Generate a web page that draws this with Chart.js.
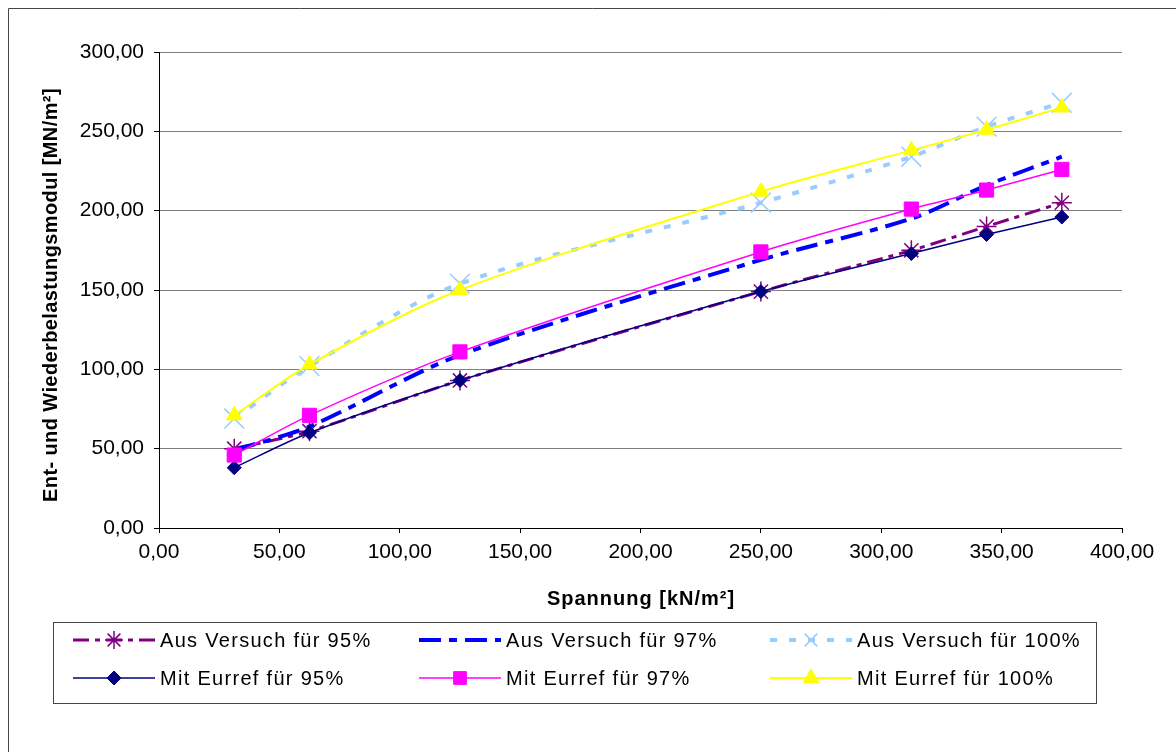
<!DOCTYPE html>
<html>
<head>
<meta charset="utf-8">
<script src="https://cdn.jsdelivr.net/npm/chart.js@4/dist/chart.umd.min.js"></script>
<style>
  body { margin: 0; background: #fff; }
  #wrap { width: 1176px; height: 752px; }
</style>
</head>
<body>
<div id="wrap"><canvas id="c" width="1176" height="752"></canvas></div>
<script>
// Spannung in kN/m²
const spannung = [31.25, 62.5, 125, 250, 312.5, 343.75, 375];

// Ent- und Wiederbelastungsmodul in MN/m²
const ausVersuch95 = [50, 61, 93, 149, 175, 190, 205];
const ausVersuch97 = [49, 64, 109, 169, 195, 216, 234];
const ausVersuch100 = [69, 102, 154, 205, 234, 253, 268];
const eurref95 = [38, 60, 93, 149, 173, 185, 196];
const eurref97 = [46, 71, 111, 174, 201, 213, 226];
const eurref100 = [71, 103, 150, 212, 238, 251, 265];

const seriesNames = [
  'Aus Versuch für 95%', 'Aus Versuch für 97%', 'Aus Versuch für 100%',
  'Mit Eurref für 95%', 'Mit Eurref für 97%', 'Mit Eurref für 100%'
];

const xTicks = [0, 50, 100, 150, 200, 250, 300, 350, 400];
const yTicks = [0, 50, 100, 150, 200, 250, 300];

const FONT = "'Liberation Sans', Arial, sans-serif";

function pts(ys) {
  return spannung.map((x, i) => ({ x: x, y: ys[i] }));
}

function fmt(v) {
  return v.toFixed(2).replace('.', ',');
}

const styles = [
  { color: '#800080', width: 3, dash: [16, 6, 5, 6], point: 'star', radius: 10, pw: 1.5 },
  { color: '#0000FF', width: 4, dash: [22, 8, 8, 8], point: false, radius: 0, pw: 0 },
  { color: '#99CCFF', width: 4, dash: [7, 12], point: 'crossRot', radius: 14, pw: 1.5 },
  { color: '#000080', width: 1.5, dash: [], point: 'rectRot', radius: 7, pw: 1 },
  { color: '#FF00FF', width: 1.5, dash: [], point: 'rect', radius: 10, pw: 1 },
  { color: '#FFFF00', width: 2, dash: [], point: 'triangle', radius: 9, pw: 1 }
];

const values = [ausVersuch95, ausVersuch97, ausVersuch100, eurref95, eurref97, eurref100];

const datasets = values.map((ys, i) => {
  const s = styles[i];
  return {
    label: seriesNames[i],
    data: pts(ys),
    showLine: true,
    tension: 0.3,
    borderColor: s.color,
    borderWidth: s.width,
    borderDash: s.dash,
    backgroundColor: s.color,
    pointStyle: s.point,
    pointRadius: s.point ? s.radius : 0,
    pointBorderWidth: s.pw,
    pointBackgroundColor: s.color,
    pointBorderColor: s.color,
    order: 6 - i
  };
});

const decor = {
  id: 'decor',
  afterDraw(chart) {
    const ctx = chart.ctx;
    ctx.save();
    // outer frame
    ctx.strokeStyle = '#444';
    ctx.lineWidth = 1;
    ctx.beginPath();
    ctx.moveTo(8.5, 752);
    ctx.lineTo(8.5, 8.5);
    ctx.lineTo(1176, 8.5);
    ctx.stroke();

    // axis titles
    ctx.fillStyle = '#000';
    ctx.font = 'bold 20px ' + FONT;
    ctx.letterSpacing = '1px';
    ctx.textAlign = 'center';
    ctx.textBaseline = 'middle';
    ctx.fillText('Spannung [kN/m²]', 641, 599);
    ctx.letterSpacing = '0.4px';
    ctx.save();
    ctx.translate(51, 295);
    ctx.rotate(-Math.PI / 2);
    ctx.fillText('Ent- und Wiederbelastungsmodul [MN/m²]', 0, 0);
    ctx.restore();

    // legend box
    ctx.strokeStyle = '#444';
    ctx.lineWidth = 1;
    ctx.strokeRect(53.5, 622.5, 1043, 81);

    const colX = [73, 419, 770];
    const rowY = [640, 678];
    ctx.font = '20px ' + FONT;
    ctx.letterSpacing = '1.3px';
    ctx.textAlign = 'left';
    for (let i = 0; i < 6; i++) {
      const s = styles[i];
      const col = i % 3;
      const row = Math.floor(i / 3);
      const x0 = colX[col];
      const y = rowY[row];
      ctx.save();
      ctx.strokeStyle = s.color;
      ctx.lineWidth = s.width;
      ctx.setLineDash(s.dash);
      ctx.beginPath();
      ctx.moveTo(x0, y);
      ctx.lineTo(x0 + 82, y);
      ctx.stroke();
      ctx.setLineDash([]);
      if (s.point) {
        ctx.fillStyle = s.color;
        ctx.strokeStyle = s.color;
        ctx.lineWidth = s.pw;
        Chart.helpers.drawPoint(ctx, {
          pointStyle: s.point,
          radius: Math.min(s.radius, 9),
          borderWidth: s.pw,
          rotation: 0
        }, x0 + 41, y);
      }
      ctx.restore();
      ctx.fillStyle = '#000';
      ctx.fillText(seriesNames[i], x0 + 87, y + 1);
    }
    ctx.letterSpacing = '0px';
    ctx.restore();
  }
};

new Chart(document.getElementById('c'), {
  type: 'scatter',
  data: { datasets: datasets },
  options: {
    responsive: false,
    animation: false,
    devicePixelRatio: 1,
    layout: { padding: { left: 0, top: 52, right: 54, bottom: 0 } },
    plugins: {
      legend: { display: false },
      tooltip: { enabled: false }
    },
    scales: {
      x: {
        type: 'linear',
        min: 0,
        max: 400,
        afterBuildTicks: (axis) => { axis.ticks = xTicks.map(v => ({ value: v })); },
        afterFit: (axis) => { axis.height = 752 - 528; },
        ticks: {
          callback: (v) => fmt(v),
          color: '#000',
          font: { family: FONT, size: 21 },
          padding: 7,
          maxRotation: 0
        },
        grid: { drawOnChartArea: false, tickLength: 5, tickColor: '#000' },
        border: { color: '#000', width: 1 }
      },
      y: {
        type: 'linear',
        min: 0,
        max: 300,
        afterBuildTicks: (axis) => { axis.ticks = yTicks.map(v => ({ value: v })); },
        afterFit: (axis) => { axis.width = 159; },
        ticks: {
          callback: (v) => fmt(v),
          color: '#000',
          font: { family: FONT, size: 21 },
          padding: 10
        },
        grid: { color: '#808080', lineWidth: 1, tickLength: 5, tickColor: '#000' },
        border: { color: '#000', width: 1 }
      }
    }
  },
  plugins: [decor]
});
</script>
</body>
</html>
